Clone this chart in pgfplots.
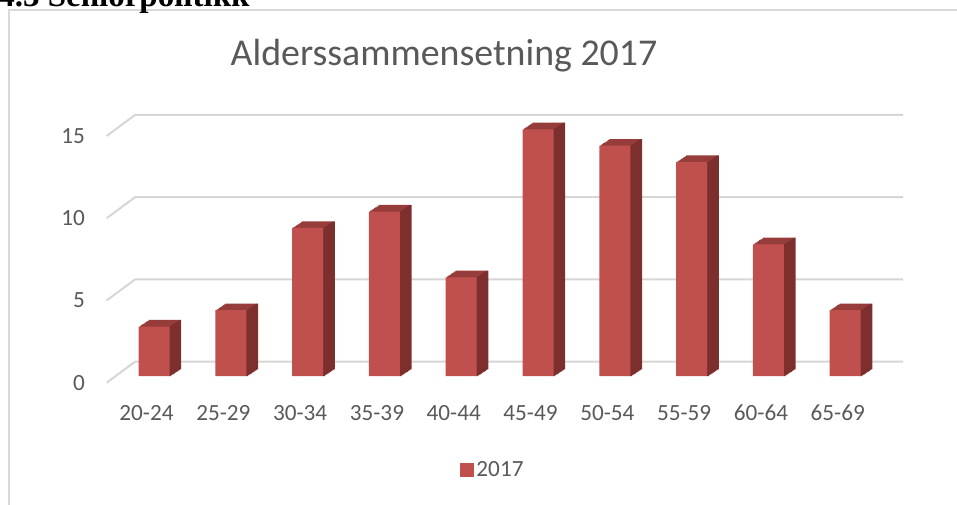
\documentclass[border=0pt]{standalone}
\usepackage{fontspec}
\setmainfont{Carlito}
\newfontfamily\headfont{Liberation Serif}
\usepackage{pgfplots}
\usepackage{pgfplotstable}
\pgfplotsset{compat=1.18}
\definecolor{barfront}{HTML}{C0504D}
\definecolor{bartop}{HTML}{963C3A}
\definecolor{barside}{HTML}{7C2F2D}
\definecolor{gridgray}{HTML}{D6D6D6}
\definecolor{framegray}{HTML}{D9D9D9}
\definecolor{textgray}{HTML}{595959}

\pgfplotstableread{
x y
0 3
1 4
2 9
3 10
4 6
5 15
6 14
7 13
8 8
9 4
}\agedata

\begin{document}
\begin{tikzpicture}
% page = 957 x 504 px, 1 px = 0.75pt
\useasboundingbox (0,0) rectangle (717.75pt,378pt);
\draw[framegray, line width=1.1pt] (760pt,370.5pt) -- (6.6pt,370.5pt) -- (6.6pt,-20pt);
\node[anchor=base west, font=\headfont\bfseries\fontsize{24.75}{26}\selectfont, inner sep=0pt]
  at (-1.5pt,372.8pt) {4.3 Seniorpolitikk};
\node[font=\fontsize{28.4}{31}\selectfont, text=textgray] at (333pt,336.5pt) {Alderssammensetning 2017};

\begin{axis}[
  at={(86.7pt,96pt)}, anchor=south west,
  scale only axis, width=576pt, height=185.06pt,
  xmin=-0.5, xmax=9.5, ymin=0, ymax=15,
  clip=false,
  axis line style={draw=none},
  major tick length=0pt,
  ybar,
  xtick=data,
  xticklabels={20-24,25-29,30-34,35-39,40-44,45-49,50-54,55-59,60-64,65-69},
  ytick={0,5,10,15},
  /pgf/number format/assume math mode=true,
  tick label style={font=\fontsize{17.4}{20}\selectfont, text=textgray, inner sep=0pt},
  xticklabel style={anchor=center, xshift=-5.6pt, yshift=-27.8pt},
  yticklabel style={anchor=east, xshift=-22.9pt, yshift=-5pt},
  legend style={at={(0.4914,-0.381)}, anchor=center, draw=none, fill=none,
    font=\fontsize{17.4}{20}\selectfont, text=textgray, inner sep=0pt},
  legend image code/.code={\fill[barfront] (-2pt,-5.25pt) rectangle (8.5pt,5.25pt);},
]
% back wall grid lines with the short floor diagonal
\pgfplotsinvokeforeach{0,5,10,15}{
  \draw[gridgray, line width=1.5pt] (axis cs:-0.6159,#1-0.407) -- (axis cs:-0.2474,#1+0.869) -- (axis cs:9.7526,#1+0.869);
}
% top faces: extrude the bar backwards
\pgfplotsinvokeforeach{1,...,8}{
  \addplot[fill=bartop, draw=none, bar width=23.25pt, bar shift=0pt, forget plot,
    xshift=#1*0.9375pt, yshift=#1*0.625pt] table[x=x,y=y] {\agedata};
}
% side faces
\pgfplotsinvokeforeach{0,...,8}{
  \addplot[fill=barside, draw=none, bar width=1.5pt, bar shift=12.15pt, forget plot,
    xshift=#1*0.9375pt, yshift=#1*0.625pt] table[x=x,y=y] {\agedata};
}
% front faces
\addplot[fill=barfront, draw=none, bar width=23.25pt, bar shift=0pt] table[x=x,y=y] {\agedata};
\addlegendentry{2017}
\end{axis}
\end{tikzpicture}
\end{document}
